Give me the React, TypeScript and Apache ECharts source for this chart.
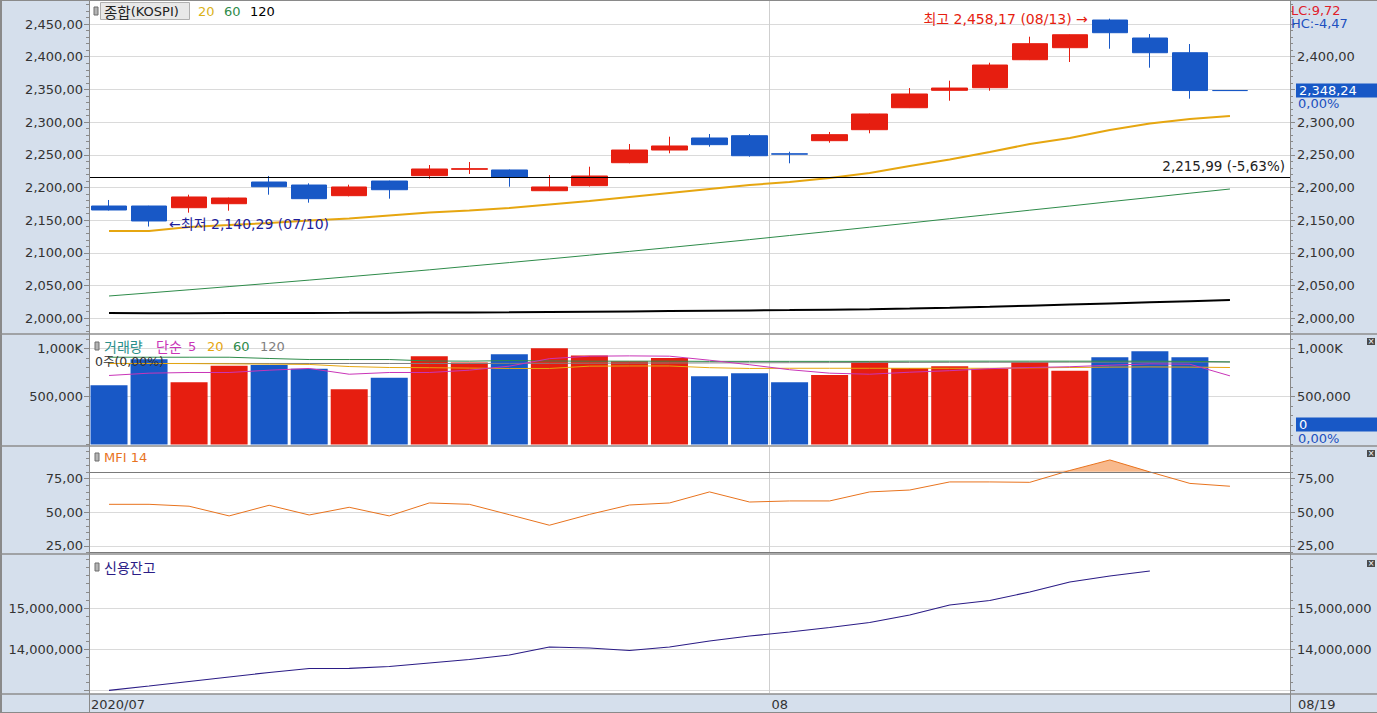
import React, { useEffect, useRef } from 'react';
import * as echarts from 'echarts';

// ---------------- data ----------------
const dates = ['07/09','07/10','07/13','07/14','07/15','07/16','07/17','07/20','07/21','07/22','07/23','07/24','07/27','07/28','07/29','07/30','07/31','08/03','08/04','08/05','08/06','08/07','08/10','08/11','08/12','08/13','08/14','08/18','08/19'];
const opens  = [2171.7,2171.7,2169.1,2175.2,2208.4,2203.8,2187.5,2209.9,2218.1,2227.8,2226.8,2195.1,2202.8,2237.9,2257.3,2275.7,2279.2,2251.5,2271.6,2288.4,2322.0,2348.6,2352.6,2395.4,2413.8,2456.1,2428.6,2406.1,2348.24];
const closes = [2165.6,2148.8,2185.5,2183.9,2201.2,2182.9,2200.8,2196.6,2228.3,2228.8,2216.1,2200.8,2217.6,2257.3,2263.5,2265.5,2248.6,2251.0,2280.8,2312.4,2343.0,2352.1,2387.3,2419.9,2433.6,2436.7,2406.1,2348.24,2348.24];
const lows   = [2164.8,2140.29,2161.5,2164.5,2189.0,2176.8,2186.5,2182.9,2213.5,2220.7,2201.2,2194.5,2201.5,2237.0,2252.3,2262.4,2247.1,2237.0,2268.5,2282.9,2321.5,2332.7,2348.0,2394.8,2391.9,2412.2,2383.2,2335.8,2348.24];
const highs  = [2180.9,2172.0,2189.0,2184.5,2217.6,2206.4,2204.3,2210.5,2234.4,2239.0,2227.5,2219.1,2231.8,2266.5,2277.7,2281.8,2281.8,2254.7,2284.9,2313.0,2352.1,2363.3,2390.8,2430.6,2434.2,2458.17,2434.7,2419.4,2348.24];
const ma20  = [2133.5,2133.5,2139.6,2142.6,2145.7,2149.5,2152.6,2157.2,2161.8,2164.8,2168.6,2174.0,2179.3,2185.5,2191.6,2197.7,2203.8,2208.4,2214.5,2222.2,2232.9,2242.8,2254.3,2266.5,2275.7,2287.9,2297.9,2304.7,2309.3];
const ma60  = [2034.1,2038.8,2043.6,2048.5,2053.4,2058.4,2063.6,2068.8,2074.1,2079.7,2085.2,2090.8,2096.5,2102.3,2108.2,2114.2,2120.3,2126.6,2132.9,2139.3,2145.7,2152.3,2158.7,2165.3,2171.7,2178.3,2184.7,2191.3,2197.7];
const ma120 = [2008.0,2007.8,2007.8,2007.9,2008.1,2008.2,2008.3,2008.5,2008.7,2009.0,2009.3,2009.7,2010.1,2010.5,2011.0,2011.5,2012.0,2012.5,2013.2,2014.0,2015.0,2016.2,2017.6,2019.2,2020.9,2022.6,2024.4,2026.2,2028.0];

const volumes  = [618000,889000,649000,819000,829000,788000,576000,694000,920000,854000,941000,1003000,927000,868000,902000,711000,743000,649000,725000,865000,798000,816000,788000,857000,767000,909000,972000,909000,0];
const volMa5   = [719000,743000,750000,750000,774000,792000,732000,750000,750000,774000,816000,894000,920000,923000,920000,878000,831000,779000,743000,732000,753000,769000,790000,802000,810000,826000,840000,836000,715000];
const volMa20  = [844000,844000,843000,840000,837000,834000,812000,802000,800000,796000,792000,792000,816000,818000,818000,800000,792000,794000,794000,794000,794000,794000,794000,798000,802000,806000,808000,806000,802000];
const volMa60  = [909000,909000,909000,909000,896000,885000,885000,885000,870000,868000,874000,870000,868000,868000,868000,866000,866000,866000,866000,866000,868000,868000,868000,868000,868000,868000,868000,866000,860000];
const volMa120 = [844000,844000,844000,844000,844000,844000,844000,844000,844000,844000,845000,846000,847000,848000,849000,850000,851000,852000,853000,854000,855000,856000,857000,857000,858000,858000,859000,859000,860000];

const mfi14 = [55.9,55.9,54.5,47.3,55.2,48.0,53.7,47.3,56.9,55.9,48.2,40.4,48.4,55.4,56.9,65.1,57.6,58.4,58.4,65.1,66.5,72.5,72.5,72.2,81.0,88.8,79.9,71.4,69.3];
const credit = [13000000,13105000,13215000,13324000,13434000,13532000,13537000,13580000,13666000,13751000,13861000,14056000,14032000,13971000,14056000,14202000,14324000,14422000,14532000,14654000,14837000,15080000,15190000,15398000,15641000,15788000,15910000];

const priceTicksLeft  = [2000,2050,2100,2150,2200,2250,2300,2350,2400,2450];
const priceTicksRight = [2000,2050,2100,2150,2200,2250,2300,2400];
const volumeTicks = [500000,1000000];
const mfiTicks = [25,50,75];
const mfiLevels = [20,80];
const creditTicks = [13000000,14000000,15000000];
const creditLabels = [14000000,15000000];
const dateTickLabels = ['2020/07','08','08/19'];

const refLine = 2215.99;
const refPct = '-5,63%';
const lcText = 'LC:9,72';
const hcText = 'HC:-4,47';

// ---------------- style ----------------
const RED = '#e61e10';
const BLUE = '#1858c6';
const GOLD = '#e6a610';
const GREEN = '#2e8b4a';
const MAGENTA = '#c935b8';
const GRAY = '#808080';
const ORANGE = '#e8731e';
const INDIGO = '#2b1c86';
const BAND = '#d5dfec';
const AXIS = '#8a8a8a';
const GRID = '#dadada';
const FONT = '"DejaVu Sans", "Noto Sans CJK KR", sans-serif';
const KFONT = '"Noto Sans CJK KR", "DejaVu Sans", sans-serif';

const comma = (n: number) => Math.round(n).toLocaleString('en-US');
const fmtPrice = (v: number) => { const [i, d] = v.toFixed(2).split('.'); return comma(Number(i)) + ',' + d; };
const fmtVol = (v: number) => v >= 1000000 ? comma(v / 1000) + 'K' : comma(v);
const fmtMfi = (v: number) => v.toFixed(2).replace('.', ',');
const fmtCredit = (v: number) => comma(v);

const range = (a: number, b: number, s: number) => { const r: number[] = []; for (let v = a; v <= b + 1e-6; v += s) r.push(Math.round(v * 100) / 100); return r; };

const cats = [...dates, ''];
const dirUp = dates.map((_, i) => closes[i] > opens[i] || (closes[i] === opens[i] && i > 0 && closes[i] > closes[i - 1]));
const monthStart = dates.indexOf('08/03');

function panelAxes(g: number, min: number, max: number, leftLabels: number[], rightLabels: number[], ticks: number[], minors: number[], fmt: (v: number) => string) {
  const common = { type: 'value', gridIndex: g, min, max };
  const lab = { color: '#333', fontSize: 13, fontFamily: FONT, formatter: fmt };
  return [
    { ...common, position: 'left', axisLine: { show: true, lineStyle: { color: AXIS } }, axisTick: { show: true, length: 5, customValues: ticks, lineStyle: { color: AXIS } }, axisLabel: { ...lab, margin: 6, customValues: leftLabels }, splitLine: { show: true, lineStyle: { color: GRID } } },
    { ...common, position: 'left', axisLine: { show: false }, axisTick: { show: true, length: 3, customValues: minors, lineStyle: { color: AXIS } }, axisLabel: { show: false }, splitLine: { show: false } },
    { ...common, position: 'right', axisLine: { show: true, lineStyle: { color: AXIS } }, axisTick: { show: true, length: 5, customValues: ticks, lineStyle: { color: AXIS } }, axisLabel: { ...lab, margin: 7, customValues: rightLabels }, splitLine: { show: false } },
    { ...common, position: 'right', axisLine: { show: false }, axisTick: { show: true, length: 3, customValues: minors, lineStyle: { color: AXIS } }, axisLabel: { show: false }, splitLine: { show: false } },
  ];
}

// split lines at the left boundary of the first category and of the month start
const monthInterval = (i: number) => i === 0 || i === monthStart;
const xCat = (g: number) => ({
  type: 'category', gridIndex: g, data: cats, boundaryGap: true, position: 'bottom', z: 0,
  axisLine: { show: false },
  axisTick: { show: false, interval: monthInterval },
  axisLabel: { show: false },
  splitLine: { show: true, interval: monthInterval, lineStyle: { color: '#cfcfcf', width: 1 } },
});

const boundaryCats = [...cats.map((_, i) => 'b' + i), 'end'];
const boundaryLabel: Record<number, string> = { 0: dateTickLabels[0], [monthStart]: dateTickLabels[1], [cats.length]: dateTickLabels[2] };

const line = (name: string, data: number[], x: number, y: number, color: string, width: number, z = 3) => ({
  name, type: 'line', xAxisIndex: x, yAxisIndex: y, data, symbol: 'none', showSymbol: false,
  lineStyle: { color, width }, itemStyle: { color }, z, silent: true,
});

const option: any = {
  animation: false,
  backgroundColor: '#ffffff',
  grid: [
    { left: 89, right: 87, top: 1, height: 332 },
    { left: 89, right: 87, top: 335, height: 109.5 },
    { left: 89, right: 87, top: 447, height: 106 },
    { left: 89, right: 87, top: 555, height: 138 },
  ],
  xAxis: [
    xCat(0), xCat(1), xCat(2), xCat(3),
    {
      type: 'category', gridIndex: 3, data: boundaryCats, boundaryGap: false, position: 'bottom',
      axisLine: { show: false }, axisTick: { show: false }, splitLine: { show: false },
      axisLabel: {
        interval: 0, margin: 5, align: 'left', color: '#333', fontSize: 13, fontFamily: FONT,
        formatter: (_: string, i: number) => (boundaryLabel[i] ? `{${i === cats.length ? 'c' : 'a'}|${boundaryLabel[i]}}` : ''),
        rich: { a: { padding: [0, 0, 0, 2], fontSize: 13, fontFamily: FONT, color: '#333' }, c: { padding: [0, 0, 0, 8], fontSize: 13, fontFamily: FONT, color: '#333' } },
      },
    },
  ],
  yAxis: [
    ...panelAxes(0, 1977.5, 2485.2, priceTicksLeft, priceTicksRight, priceTicksLeft, range(1980, 2480, 10), fmtPrice),
    ...panelAxes(1, 0, 1140600, volumeTicks, volumeTicks, volumeTicks, range(0, 1100000, 100000), fmtVol),
    ...panelAxes(2, 19.8, 98.4, mfiTicks, mfiTicks, mfiTicks, range(20, 95, 5), fmtMfi),
    ...panelAxes(3, 12934000, 16300000, creditLabels, creditLabels, creditTicks, range(13000000, 16200000, 200000), fmtCredit),
  ],
  series: [
    line('MA120', ma120, 0, 0, '#000000', 2, 2),
    line('MA60', ma60, 0, 0, GREEN, 1, 2),
    line('MA20', ma20, 0, 0, GOLD, 2, 2),
    {
      name: '종합(KOSPI)', type: 'candlestick', xAxisIndex: 0, yAxisIndex: 0, barWidth: 36, z: 4,
      data: dates.map((_, i) => [opens[i], closes[i], lows[i], highs[i]]),
      itemStyle: { color: RED, color0: BLUE, borderColor: RED, borderColor0: BLUE, borderColorDoji: BLUE, borderWidth: 1 },
      markLine: {
        silent: true, symbol: 'none', animation: false,
        lineStyle: { color: '#000', width: 1, type: 'solid' },
        label: { show: true, position: 'insideEndTop', formatter: `${fmtPrice(refLine)} (${refPct})`, color: '#222', fontSize: 13.5, fontFamily: FONT, distance: [5, 4] },
        data: [{ yAxis: refLine }],
      },
      markPoint: {
        silent: true, animation: false,
        data: [
          { coord: [dates[25], highs[25]], symbol: 'circle', symbolSize: 0,
            label: { show: true, position: 'left', distance: 22, formatter: `최고 ${fmtPrice(highs[25])} (${dates[25]}) →`, color: RED, fontSize: 14, fontFamily: FONT } },
          { coord: [dates[1], lows[1]], symbol: 'circle', symbolSize: 0,
            label: { show: true, position: 'right', distance: 20, offset: [0, -3], formatter: `←최저 ${fmtPrice(lows[1])} (${dates[1]})`, color: '#1e1e9a', fontSize: 14, fontFamily: FONT } },
        ],
      },
    },
    {
      name: '거래량', type: 'bar', xAxisIndex: 1, yAxisIndex: 4, barWidth: 37, z: 2,
      data: volumes.map((v, i) => ({ value: v, itemStyle: { color: dirUp[i] ? RED : BLUE } })),
    },
    line('V120', volMa120, 1, 4, GRAY, 1, 3),
    line('V60', volMa60, 1, 4, GREEN, 1, 3),
    line('V20', volMa20, 1, 4, GOLD, 1, 3),
    line('V5', volMa5, 1, 4, MAGENTA, 1, 3),
    {
      name: 'MFIfill', type: 'line', xAxisIndex: 2, yAxisIndex: 8, symbol: 'none', silent: true, z: 1,
      data: mfi14.map((v) => Math.max(v, mfiLevels[1])),
      lineStyle: { opacity: 0, width: 0 }, areaStyle: { origin: mfiLevels[1], color: '#f8b98c', opacity: 1 },
    },
    {
      ...line('MFI 14', mfi14, 2, 8, ORANGE, 1, 3),
      markLine: {
        silent: true, symbol: 'none', animation: false, label: { show: false },
        lineStyle: { color: '#7a7a7a', width: 1, type: 'solid' },
        data: mfiLevels.map((v) => ({ yAxis: v })),
      },
    },
    line('신용잔고', credit, 3, 12, INDIGO, 1.2, 3),
  ],
};

const icon = (x: number, y: number) => ({ type: 'rect', shape: { x, y: y - 4, width: 4, height: 8 }, style: { fill: '#b4b4b4', stroke: '#6e6e6e', lineWidth: 1 }, z: 100 });

export default function App() {
  const ref = useRef<HTMLDivElement>(null);
  useEffect(() => {
    document.body.style.margin = '0';
    const chart = echarts.init(ref.current!, null, { renderer: 'svg', width: 1377, height: 713 });
    chart.setOption(option);
    const yLast = chart.convertToPixel({ yAxisIndex: 0 } as any, closes[closes.length - 1]) as number;
    const yVol0 = chart.convertToPixel({ yAxisIndex: 4 } as any, 0) as number;
    const txt = (x: number, y: number, text: string, fill: string, extra: any = {}) => ({
      type: 'text', x, y, z: 101, style: { text, fill, fontSize: 13, fontFamily: FONT, verticalAlign: 'middle', align: 'left', ...extra },
    });
    const ktxt = (x: number, y: number, text: string, fill: string) => txt(x, y, text, fill, { fontSize: 14, fontFamily: KFONT });
    const g: any[] = [
      { type: 'rect', shape: { x: 0, y: 0, width: 89, height: 713 }, style: { fill: BAND }, z: -10 },
      { type: 'rect', shape: { x: 1290, y: 0, width: 87, height: 713 }, style: { fill: BAND }, z: -10 },
      { type: 'rect', shape: { x: 0, y: 694, width: 1377, height: 19 }, style: { fill: BAND }, z: -10 },
      { type: 'line', shape: { x1: 0, y1: 0.5, x2: 1377, y2: 0.5 }, style: { stroke: '#8a8a8a', lineWidth: 1 }, z: 50 },
      { type: 'line', shape: { x1: 1, y1: 0, x2: 1, y2: 713 }, style: { stroke: '#8a8a8a', lineWidth: 2 }, z: 50 },
      { type: 'line', shape: { x1: 0, y1: 712.5, x2: 1377, y2: 712.5 }, style: { stroke: '#8a8a8a', lineWidth: 1 }, z: 50 },
      ...[334, 446, 554, 694].map((y) => ({ type: 'line', shape: { x1: 0, y1: y, x2: 1377, y2: y }, style: { stroke: '#8e8e8e', lineWidth: 1.6 }, z: 50 })),
      { type: 'line', shape: { x1: 89.5, y1: 0, x2: 89.5, y2: 713 }, style: { stroke: '#8a8a8a', lineWidth: 1 }, z: 50 },
      { type: 'line', shape: { x1: 1290.5, y1: 0, x2: 1290.5, y2: 713 }, style: { stroke: '#8a8a8a', lineWidth: 1 }, z: 50 },
      // top legend
      icon(94, 11),
      { type: 'rect', shape: { x: 100.5, y: 2.5, width: 89, height: 17 }, style: { fill: '#e8e8e8', stroke: '#b0b0b0', lineWidth: 1 }, z: 100 },
      txt(104, 11, '{k|종합}(KOSPI)', '#222', { rich: { k: { fontSize: 14.5, fontFamily: KFONT, fill: '#222' } } }),
      txt(198, 11, '20', '#d9b21a'),
      txt(224, 11, '60', GREEN),
      txt(250, 11, '120', '#000'),
      // volume legend
      icon(95, 346),
      ktxt(104, 346, '거래량', '#2a8f8a'),
      ktxt(156, 346, '단순', MAGENTA),
      txt(188, 346, '5', MAGENTA),
      txt(207, 346, '20', GOLD),
      txt(233, 346, '60', GREEN),
      txt(260, 346, '120', GRAY),
      txt(95, 361, '0주(0,00%)', '#333', { fontSize: 12.5 }),
      // mfi legend
      icon(95, 457),
      txt(104, 457, 'MFI 14', ORANGE),
      // credit legend
      icon(95, 567),
      ktxt(104, 567, '신용잔고', INDIGO),
      // right top labels
      txt(1291, 10, lcText, '#e0202a'),
      txt(1291, 23, hcText, '#2050c0'),
      { type: 'rect', shape: { x: 1296, y: yLast - 7, width: 81, height: 14 }, style: { fill: BLUE }, z: 100 },
      txt(1299, yLast, fmtPrice(closes[closes.length - 1]), '#ffffff'),
      txt(1298, yLast + 13, '0,00%', '#2050c0'),
      { type: 'rect', shape: { x: 1296, y: yVol0 - 27, width: 81, height: 14 }, style: { fill: BLUE }, z: 100 },
      txt(1299, yVol0 - 20, fmtVol(volumes[volumes.length - 1]), '#ffffff'),
      txt(1298, yVol0 - 6, '0,00%', '#2050c0'),
      // close icons
      ...[338, 450, 560].flatMap((y) => [
        { type: 'rect', shape: { x: 1367, y, width: 8, height: 7 }, style: { fill: '#4a4a4a' }, z: 100 },
        { type: 'text', x: 1371, y: y + 3.5, z: 101, style: { text: '×', fill: '#fff', fontSize: 8, fontFamily: FONT, align: 'center', verticalAlign: 'middle' } },
      ]),
    ];
    chart.setOption({ graphic: g });
    return () => chart.dispose();
  }, []);
  return <div ref={ref} style={{ width: 1377, height: 713 }} />;
}
